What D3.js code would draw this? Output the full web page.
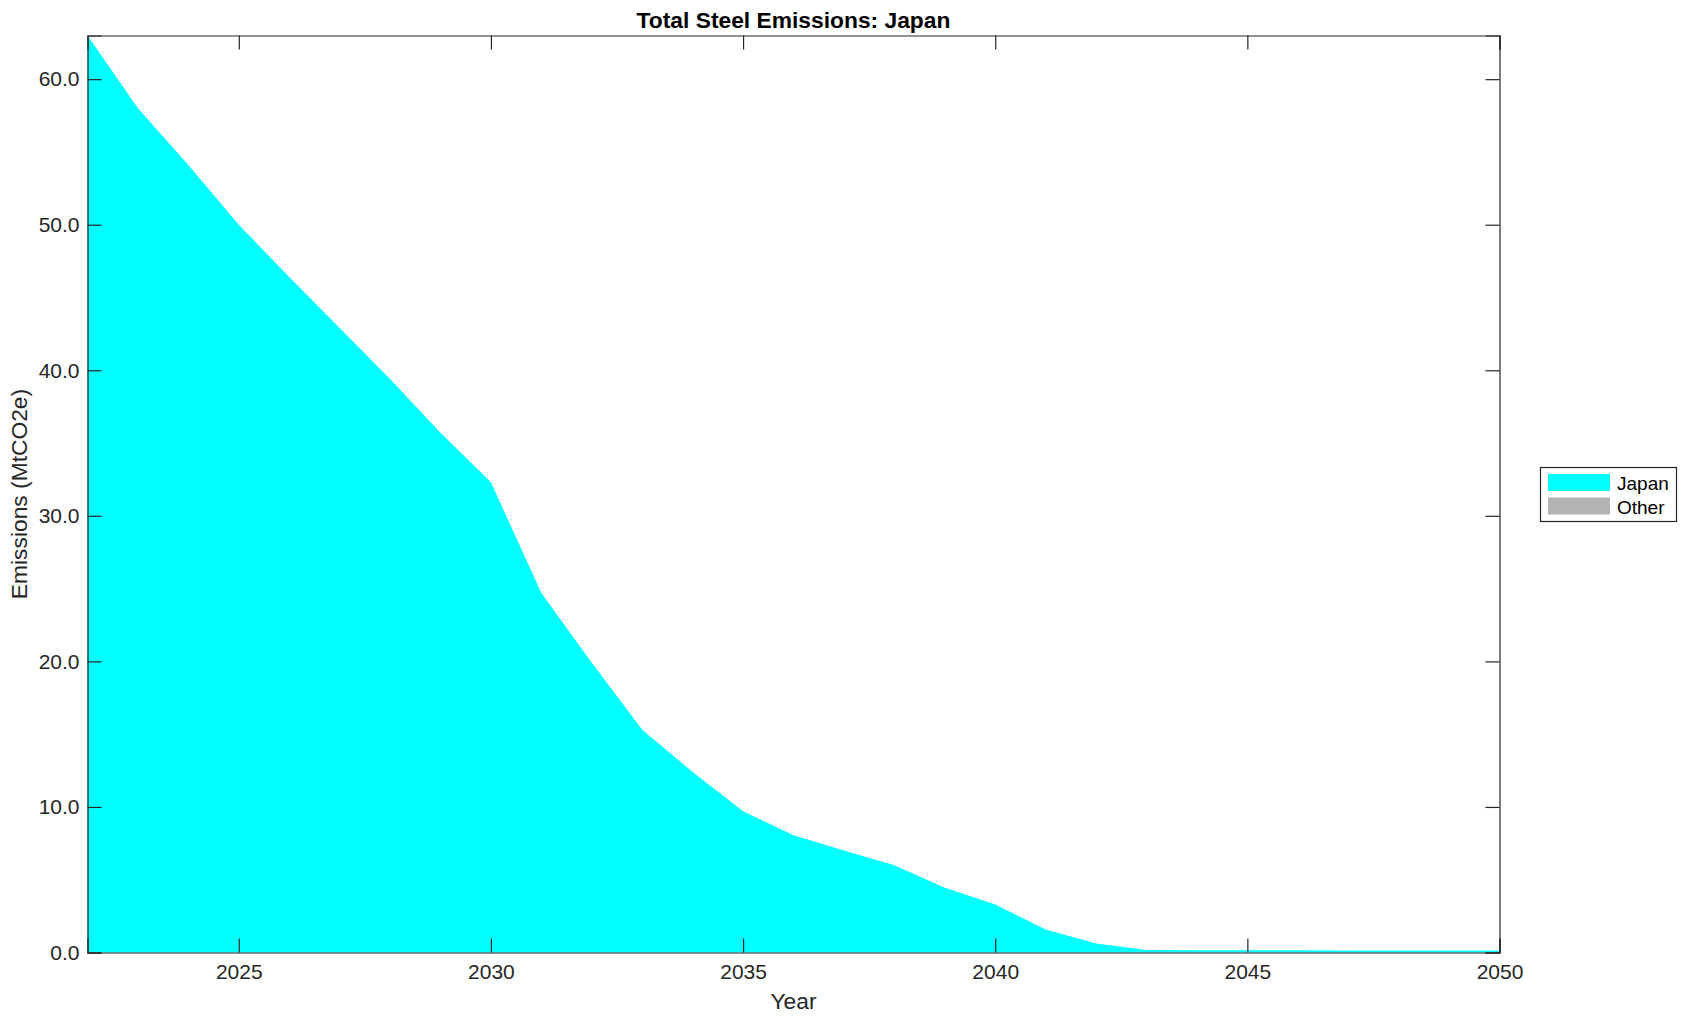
<!DOCTYPE html>
<html>
<head>
<meta charset="utf-8">
<script src="https://cdn.jsdelivr.net/npm/d3@7"></script>
<style>
  body { margin: 0; background: #fff; }
  text { font-family: "Liberation Sans", Arial, Helvetica, sans-serif; }
</style>
</head>
<body>
<div id="chart"></div>
<script>
// data
const years = d3.range(2022, 2051);
const japan = [63.0, 58.0, 54.1, 50.0, 46.4, 42.9, 39.4, 35.7, 32.3, 24.7,
               19.9, 15.3, 12.4, 9.7, 8.05, 7.0, 6.0, 4.45, 3.3, 1.58,
               0.62, 0.17, 0.15, 0.15, 0.15, 0.14, 0.13, 0.13, 0.13];
const other = years.map(() => 0);
const seriesNames = ["Japan", "Other"];
const seriesColors = ["#00ffff", "#b3b3b3"];
const xTicks = [2025, 2030, 2035, 2040, 2045, 2050];
const yTicks = [0, 10, 20, 30, 40, 50, 60];

const w = 1687, h = 1021;
const plotLeft = 87.5, plotRight = 1499.5, plotTop = 35.5, plotBottom = 952.5;
const tickLen = 14;
const ink = "#262626";

const svg = d3.select("#chart").append("svg")
  .attr("width", w)
  .attr("height", h);

const x = d3.scaleLinear().domain([2022, 2050]).range([plotLeft, plotRight]);
const y = d3.scaleLinear().domain([0, 63]).range([plotBottom, plotTop]);

const rows = years.map((yr, i) => ({ year: yr, Japan: japan[i], Other: other[i] }));
const stacked = d3.stack().keys(seriesNames)(rows);

const area = d3.area()
  .x(d => x(d.data.year))
  .y0(d => y(d[0]))
  .y1(d => y(d[1]));

svg.selectAll("path.layer")
  .data(stacked)
  .enter()
  .append("path")
  .attr("class", "layer")
  .attr("d", area)
  .attr("fill", (d, i) => seriesColors[i])
  .attr("stroke", "none");

// axes: ticks point inwards, mirrored on top and right
const xAxisB = d3.axisBottom(x).tickValues(xTicks).tickSize(-tickLen).tickPadding(12).tickFormat(d3.format("d"));
const xAxisT = d3.axisTop(x).tickValues(xTicks).tickSize(-tickLen).tickFormat("");
const yAxisL = d3.axisLeft(y).tickValues(yTicks).tickSize(-tickLen).tickPadding(8).tickFormat(d3.format(".1f"));
const yAxisR = d3.axisRight(y).tickValues(yTicks).tickSize(-tickLen).tickFormat("");

const gB = svg.append("g").attr("transform", "translate(0," + plotBottom + ")").call(xAxisB);
const gT = svg.append("g").attr("transform", "translate(0," + plotTop + ")").call(xAxisT);
const gL = svg.append("g").attr("transform", "translate(" + plotLeft + ",0)").call(yAxisL);
const gR = svg.append("g").attr("transform", "translate(" + plotRight + ",0)").call(yAxisR);

[gB, gT, gL, gR].forEach(g => {
  g.select(".domain").attr("stroke", ink).attr("stroke-width", 1.2);
  g.selectAll(".tick line").attr("stroke", ink).attr("stroke-width", 1.2);
  g.selectAll(".tick text")
    .attr("fill", ink)
    .style("font-size", "21px");
});
gB.selectAll(".tick text").attr("dy", "0.71em");

// title
svg.append("text")
  .attr("x", (plotLeft + plotRight) / 2)
  .attr("y", 28)
  .attr("text-anchor", "middle")
  .style("font-size", "22.8px")
  .style("font-weight", "bold")
  .attr("fill", "#000")
  .text("Total Steel Emissions: Japan");

// x axis title
svg.append("text")
  .attr("x", (plotLeft + plotRight) / 2)
  .attr("y", 1009)
  .attr("text-anchor", "middle")
  .style("font-size", "22.8px")
  .attr("fill", ink)
  .text("Year");

// y axis title
svg.append("text")
  .attr("transform", "translate(27," + ((plotTop + plotBottom) / 2) + ") rotate(-90)")
  .attr("text-anchor", "middle")
  .style("font-size", "22.8px")
  .attr("fill", ink)
  .text("Emissions (MtCO2e)");

// legend
const legend = svg.append("g");
legend.append("rect")
  .attr("x", 1540.5).attr("y", 467.5)
  .attr("width", 136).attr("height", 54)
  .attr("fill", "#fff")
  .attr("stroke", ink)
  .attr("stroke-width", 1.2);

seriesNames.forEach((name, i) => {
  legend.append("rect")
    .attr("x", 1548).attr("y", 474 + i * 23.5)
    .attr("width", 62).attr("height", 17)
    .attr("fill", seriesColors[i]);
  legend.append("text")
    .attr("x", 1617).attr("y", 490 + i * 23.5)
    .style("font-size", "19px")
    .attr("fill", "#000")
    .text(name);
});
</script>
</body>
</html>
